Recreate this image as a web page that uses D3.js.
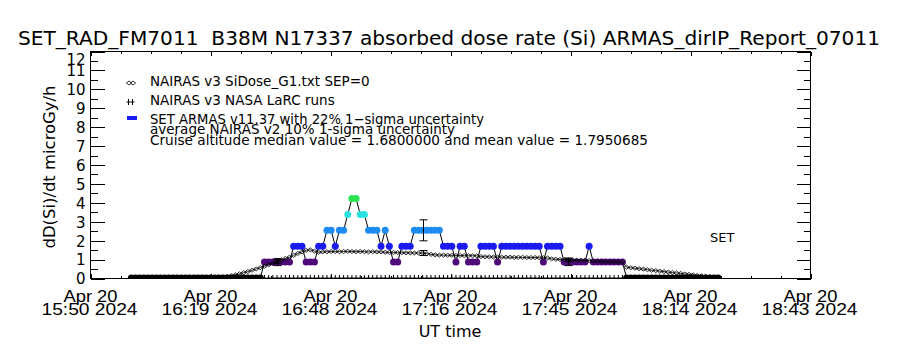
<!DOCTYPE html>
<html>
<head>
<meta charset="utf-8">
<script src="https://cdn.jsdelivr.net/npm/d3@7"></script>
<style>
body { margin: 0; background: #fff; }
svg { font-family: "DejaVu Sans", sans-serif; }
text { white-space: pre; fill: #000; }
</style>
</head>
<body>
<script>
const width = 900,
    height = 350;

const plotLeft = 90,
    plotRight = 810,
    plotTop = 51,
    plotBottom = 278;

// ARMAS dose rate, one sample per minute from 16:00
const armasValues = [
    0, 0, 0, 0, 0, 0, 0, 0, 0, 0, 0, 0, 0, 0, 0, 0, 0, 0, 0, 0,
    0, 0, 0, 0, 0, 0, 0, 0, 0, 0, 0, 0,
    0.84, 0.84, 0.84, 0.84, 0.84, 0.84, 0.84,
    1.68, 1.68, 1.68,
    0.84, 0.84, 0.84,
    1.68, 1.68,
    2.52, 2.52,
    1.68,
    2.52, 2.52,
    3.36,
    4.2, 4.2,
    3.36, 3.36,
    2.52, 2.52, 2.52,
    1.68, 2.52, 1.68,
    0.84, 0.84,
    1.68, 1.68, 1.68,
    2.52, 2.52, 2.52, 2.52, 2.52, 2.52, 2.52,
    1.68, 1.68, 1.68,
    0.84,
    1.68, 1.68,
    0.84, 0.84, 0.84,
    1.68, 1.68, 1.68, 1.68,
    0.84,
    1.68, 1.68, 1.68, 1.68, 1.68, 1.68, 1.68, 1.68, 1.68, 1.68,
    0.84,
    1.68, 1.68, 1.68, 1.68,
    0.84, 0.84, 0.84, 0.84, 0.84, 0.84,
    1.68,
    0.84, 0.84, 0.84, 0.84, 0.84, 0.84, 0.84, 0.84,
    0, 0, 0, 0, 0, 0, 0, 0, 0, 0, 0, 0, 0, 0, 0, 0, 0, 0, 0, 0,
    0, 0, 0
];

// NAIRAS v3 SiDose at the same times
const nairasValues = [
    0.02, 0.02, 0.02, 0.02, 0.02, 0.02, 0.02, 0.02, 0.02, 0.02,
    0.02, 0.02, 0.02, 0.02, 0.02, 0.02, 0.02, 0.02, 0.02, 0.02, 0.02,
    0.03, 0.05, 0.08, 0.12, 0.17, 0.22, 0.28, 0.34, 0.41, 0.48,
    0.55, 0.62, 0.70, 0.78, 0.87, 0.95, 1.03, 1.10, 1.20, 1.30,
    1.38, 1.46, 1.49, 1.42, 1.36,
    1.38, 1.39, 1.40, 1.40, 1.39, 1.40, 1.41, 1.40, 1.39, 1.40,
    1.39, 1.38, 1.39, 1.38, 1.38,
    1.36, 1.35, 1.35, 1.34, 1.34, 1.33, 1.33, 1.32, 1.32, 1.32,
    1.28, 1.25, 1.22, 1.21, 1.21, 1.20, 1.20, 1.19, 1.19, 1.18,
    1.18, 1.18, 1.17,
    1.13, 1.12, 1.12, 1.11, 1.11, 1.10, 1.10, 1.10, 1.09, 1.09,
    1.09, 1.08, 1.08, 1.08, 1.07, 1.07, 1.06,
    1.01, 0.99, 0.98, 0.97, 0.96, 0.95, 0.94, 0.93, 0.93, 0.92,
    0.89, 0.88, 0.87, 0.86, 0.86, 0.85, 0.85, 0.84,
    0.57, 0.54, 0.52, 0.49, 0.47, 0.44, 0.41, 0.39, 0.36, 0.34,
    0.31, 0.29, 0.26, 0.24, 0.21, 0.19, 0.16, 0.14, 0.11, 0.09,
    0.06, 0.04, 0.02
];

// NAIRAS v3 NASA LaRC runs
const larcValues = [
    0, 0, 0, 0, 0, 0, 0, 0, 0, 0, 0, 0, 0, 0, 0, 0, 0, 0, 0, 0,
    0, 0, 0, 0, 0, 0, 0, 0, 0, 0, 0, 0, 0, 0, 0, 0, 0, 0, 0, 0,
    0, 0, 0, 0, 0, 0, 0, 0, 0, 0, 0, 0, 0, 0, 0, 0, 0, 0, 0, 0,
    0, 0, 0, 0, 0, 0, 0, 0, 0, 0, 0, 0, 0, 0, 0, 0, 0, 0, 0, 0,
    0, 0, 0, 0, 0, 0, 0, 0, 0, 0, 0, 0, 0, 0, 0, 0, 0, 0, 0, 0,
    0, 0, 0, 0, 0, 0, 0, 0, 0, 0, 0, 0, 0, 0, 0, 0, 0, 0, 0, 0,
    0, 0, 0, 0, 0, 0, 0, 0, 0, 0, 0, 0, 0, 0, 0, 0, 0, 0, 0, 0,
    0, 0
];

const errorIndex = [35, 70, 105];
const armasSigma = 0.22,
    nairasSigma = 0.10;

const levelValues = [0, 0.84, 1.68, 2.52, 3.36, 4.2];
const levelColors = ['#000000', '#4e0a7a', '#1a1af2', '#1c8cf2', '#2ae2e2', '#2ae254'];

const yTicks = [0, 1, 2, 3, 4, 5, 6, 7, 8, 9, 10, 11, 12];
const titleText = 'SET_RAD_FM7011  B38M N17337 absorbed dose rate (Si) ARMAS_dirIP_Report_07011';
const yLabel = 'dD(Si)/dt microGy/h';
const xLabel = 'UT time';
const legendLabels = [
    'NAIRAS v3 SiDose_G1.txt SEP=0',
    'NAIRAS v3 NASA LaRC runs',
    'SET ARMAS v11.37 with 22% 1\u2212sigma uncertainty'
];
const noteLabels = [
    'average NAIRAS v2 10% 1-sigma uncertainty',
    'Cruise altitude median value = 1.6800000 and mean value = 1.7950685'
];

const t0 = new Date(Date.UTC(2024, 3, 20, 15, 50, 24)),
    t1 = new Date(Date.UTC(2024, 3, 20, 18, 43, 24));
const armasStart = Date.UTC(2024, 3, 20, 16, 0, 20);
const times = armasValues.map((v, i) => new Date(armasStart + i * 60000));

const x = d3.scaleUtc().domain([t0, t1]).range([plotLeft, plotRight]);
const y = d3.scaleLinear().domain([0, 12]).range([plotBottom, plotTop]);
const color = d3.scaleLinear().domain(levelValues).range(levelColors);

const majorTimes = d3.range(7).map(k => new Date(+t0 + k * (t1 - t0) / 6));
const minorTimes = d3.range(25).map(k => new Date(+t0 + k * (t1 - t0) / 24));
const yMinor = d3.range(0, 12.5, 0.5);

const svg = d3.select('body').append('svg')
    .attr('width', width)
    .attr('height', height);

svg.append('defs').append('clipPath').attr('id', 'plot')
    .append('rect')
    .attr('x', plotLeft).attr('y', plotTop)
    .attr('width', plotRight - plotLeft).attr('height', plotBottom - plotTop);

function renderAxes() {
    const ax = svg.append('g').attr('shape-rendering', 'crispEdges');

    ax.append('rect')
        .attr('x', plotLeft + 0.5).attr('y', plotTop + 0.5)
        .attr('width', plotRight - plotLeft).attr('height', plotBottom - plotTop)
        .attr('fill', 'none').attr('stroke', '#000');

    const tickAxis = (axis, transform) => {
        ax.append('g')
            .attr('transform', transform)
            .call(axis)
            .call(g => g.select('.domain').remove());
    };

    tickAxis(d3.axisBottom(x).tickValues(minorTimes).tickSizeInner(-2.5).tickSizeOuter(0).tickFormat(''),
        'translate(0.5,' + (plotBottom + 0.5) + ')');
    tickAxis(d3.axisBottom(x).tickValues(majorTimes).tickSizeInner(-4.5).tickSizeOuter(0).tickFormat(''),
        'translate(0.5,' + (plotBottom + 0.5) + ')');
    tickAxis(d3.axisTop(x).tickValues(minorTimes).tickSizeInner(-2.5).tickSizeOuter(0).tickFormat(''),
        'translate(0.5,' + (plotTop + 0.5) + ')');
    tickAxis(d3.axisTop(x).tickValues(majorTimes).tickSizeInner(-4.5).tickSizeOuter(0).tickFormat(''),
        'translate(0.5,' + (plotTop + 0.5) + ')');

    tickAxis(d3.axisLeft(y).tickValues(yMinor).tickSizeInner(-7).tickSizeOuter(0).tickFormat(''),
        'translate(' + (plotLeft + 0.5) + ',0.5)');
    tickAxis(d3.axisRight(y).tickValues(yMinor).tickSizeInner(-7).tickSizeOuter(0).tickFormat(''),
        'translate(' + (plotRight + 0.5) + ',0.5)');
    tickAxis(d3.axisRight(y).tickValues(yTicks).tickSizeInner(-14).tickSizeOuter(0).tickFormat(''),
        'translate(' + (plotRight + 0.5) + ',0.5)');

    // left axis with labels
    const yAxis = ax.append('g')
        .attr('transform', 'translate(' + (plotLeft + 0.5) + ',0.5)')
        .call(d3.axisLeft(y).tickValues(yTicks).tickSizeInner(-14).tickSizeOuter(0).tickPadding(5));
    yAxis.select('.domain').remove();
    yAxis.selectAll('text')
        .attr('font-family', '"DejaVu Sans", sans-serif')
        .attr('font-size', 15)
        .attr('fill', '#000')
        .attr('dy', d => d === 12 ? '0.85em' : '0.36em');

    // bottom labels, two lines each
    const xAxis = svg.append('g')
        .attr('transform', 'translate(0,' + plotBottom + ')')
        .call(d3.axisBottom(x).tickValues(majorTimes).tickSize(0).tickFormat(''));
    xAxis.select('.domain').remove();
    xAxis.selectAll('.tick').each(function(d) {
        const t = d3.select(this).append('text')
            .attr('text-anchor', 'middle')
            .attr('font-size', 16)
            .attr('fill', '#000');
        t.append('tspan').attr('x', 0).attr('y', 24)
            .attr('textLength', 54).attr('lengthAdjust', 'spacingAndGlyphs')
            .text(d3.utcFormat('%b %d')(d));
        t.append('tspan').attr('x', -1).attr('y', 37)
            .attr('textLength', 96).attr('lengthAdjust', 'spacingAndGlyphs')
            .text(d3.utcFormat('%H:%M %Y')(d));
    });
}

function renderArmas() {
    const g = svg.append('g').attr('clip-path', 'url(#plot)');
    const line = d3.line()
        .x((d, i) => x(times[i]))
        .y(d => y(d));

    g.append('path')
        .datum(armasValues)
        .attr('d', line)
        .attr('fill', 'none')
        .attr('stroke', '#000')
        .attr('stroke-width', 1);

    g.selectAll('circle.armas')
        .data(armasValues)
        .enter()
        .append('circle')
        .attr('class', 'armas')
        .attr('cx', (d, i) => x(times[i]))
        .attr('cy', d => y(d))
        .attr('r', 3.5)
        .attr('fill', d => color(d));
}

function renderNairas() {
    const g = svg.append('g').attr('clip-path', 'url(#plot)');
    const line = d3.line()
        .x((d, i) => x(times[i]))
        .y(d => y(d));

    g.append('path')
        .datum(nairasValues)
        .attr('d', line)
        .attr('fill', 'none')
        .attr('stroke', '#000')
        .attr('stroke-width', 0.8);

    g.selectAll('path.diamond')
        .data(nairasValues)
        .enter()
        .append('path')
        .attr('class', 'diamond')
        .attr('transform', (d, i) => 'translate(' + x(times[i]) + ',' + y(d) + ')')
        .attr('d', 'M-2.6,0L0,-2L2.6,0L0,2Z')
        .attr('fill', 'none')
        .attr('stroke', '#000')
        .attr('stroke-width', 0.8);

    g.selectAll('path.plus')
        .data(larcValues)
        .enter()
        .append('path')
        .attr('class', 'plus')
        .attr('transform', (d, i) => 'translate(' + x(times[i]) + ',' + y(d) + ')')
        .attr('d', 'M-2,0H2M0,-3V3')
        .attr('stroke', '#000')
        .attr('stroke-width', 1);
}

function renderErrors() {
    const g = svg.append('g').attr('stroke', '#000').attr('stroke-width', 1);
    const bar = (xi, v, s) => {
        const lo = y(v * (1 - s)), hi = y(v * (1 + s));
        g.append('line').attr('x1', xi).attr('x2', xi).attr('y1', lo).attr('y2', hi);
        g.append('line').attr('x1', xi - 4).attr('x2', xi + 4).attr('y1', lo).attr('y2', lo);
        g.append('line').attr('x1', xi - 4).attr('x2', xi + 4).attr('y1', hi).attr('y2', hi);
    };
    errorIndex.forEach(i => {
        const xi = Math.round(x(times[i])) + 0.5;
        bar(xi, armasValues[i], armasSigma);
        bar(xi, nairasValues[i], nairasSigma);
    });
}

function renderLegend() {
    const g = svg.append('g');
    const diamond = 'M-2.6,0L0,-2L2.6,0L0,2Z';
    [129, 133].forEach(cx => {
        g.append('path').attr('d', diamond)
            .attr('transform', 'translate(' + cx + ',83)')
            .attr('fill', 'none').attr('stroke', '#000').attr('stroke-width', 0.8);
        g.append('path').attr('d', 'M-2,0H2M0,-3V3')
            .attr('transform', 'translate(' + (cx - 0.5) + ',102)')
            .attr('stroke', '#000');
    });
    g.append('rect')
        .attr('x', 127).attr('y', 116).attr('width', 10).attr('height', 4)
        .attr('fill', levelColors[2]);

    const rows = [86, 105, 124];
    legendLabels.forEach((t, i) => {
        const label = g.append('text')
            .attr('x', 150).attr('y', rows[i])
            .attr('font-size', 13.5)
            .text(t);
        if (i === 2) label.attr('textLength', 334).attr('lengthAdjust', 'spacingAndGlyphs');
    });
    g.append('text').attr('x', 150).attr('y', 134)
        .attr('font-size', 13.5)
        .attr('textLength', 305).attr('lengthAdjust', 'spacingAndGlyphs')
        .text(noteLabels[0]);
    g.append('text').attr('x', 150).attr('y', 145)
        .attr('font-size', 13.5)
        .attr('textLength', 498).attr('lengthAdjust', 'spacingAndGlyphs')
        .text(noteLabels[1]);
}

function renderText() {
    svg.append('text')
        .attr('x', 18).attr('y', 45)
        .attr('font-size', 20)
        .attr('textLength', 862).attr('lengthAdjust', 'spacingAndGlyphs')
        .text(titleText);

    svg.append('text')
        .attr('transform', 'translate(55,167) rotate(-90)')
        .attr('text-anchor', 'middle')
        .attr('font-size', 16)
        .attr('textLength', 163).attr('lengthAdjust', 'spacingAndGlyphs')
        .text(yLabel);

    svg.append('text')
        .attr('x', 450).attr('y', 337)
        .attr('text-anchor', 'middle')
        .attr('font-size', 16)
        .text(xLabel);

    svg.append('text')
        .attr('x', 710).attr('y', 242)
        .attr('font-size', 13)
        .text('SET');
}

renderAxes();
renderArmas();
renderNairas();
renderErrors();
renderLegend();
renderText();
</script>
</body>
</html>
